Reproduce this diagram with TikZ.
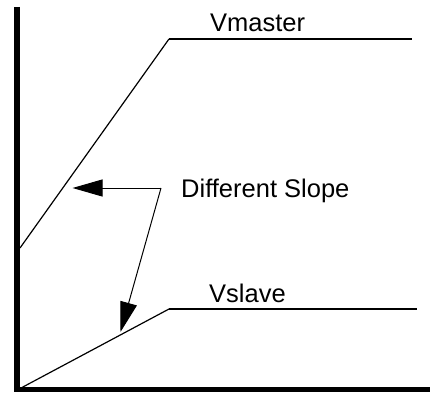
\documentclass[tikz,border=0pt]{standalone}
\usepackage{fontspec}
\setmainfont{Liberation Sans}
\usetikzlibrary{arrows.meta}
\begin{document}
\begin{tikzpicture}[x=1pt,y=-1pt,
  axisline/.style={line width=5.6pt,line join=miter},
  slopeline/.style={line width=1.2pt},
  flatline/.style={line width=2.2pt},
  callout/.style={line width=1pt,-{Triangle[length=30pt,width=17pt]}},
  lbl/.style={inner sep=0pt,anchor=base west,font=\fontsize{25.5}{30}\selectfont}]
\useasboundingbox (0,0) rectangle (430,393);
\draw[axisline] (17,7) -- (17,389.5) -- (430,389.5);
% Vmaster
\coordinate (m0) at (20,248);
\coordinate (m1) at (169,39);
\coordinate (m2) at (412,39);
\draw[slopeline] (m0) -- (m1);
\draw[flatline] (m1) -- (m2);
% Vslave
\coordinate (s0) at (21,388);
\coordinate (s1) at (169,309);
\coordinate (s2) at (417,309);
\draw[slopeline] (s0) -- (s1);
\draw[flatline] (s1) -- (s2);
% labels
\node[lbl] (vm) at (210,32) {Vmaster};
\node[lbl] (vs) at (209,302) {Vslave};
\node[lbl] (ds) at (181,197) {Different Slope};
% callouts
\coordinate (j) at (161,188);
\coordinate (t1) at (72.5,188);
\coordinate (t2) at (120.5,332);
\draw[callout] (j) -- (t1);
\draw[callout] (j) -- (t2);
\end{tikzpicture}
\end{document}
